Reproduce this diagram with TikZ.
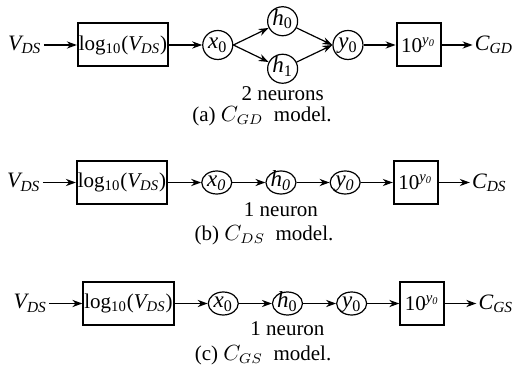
\documentclass[tikz,border=0pt]{standalone}
\usepackage{fontspec}
\setmainfont{Liberation Serif}
\usetikzlibrary{arrows.meta, shapes.geometric, positioning}

\tikzset{
  block/.style={draw, line width=1pt, minimum height=21.5pt, minimum width=22pt,
                inner xsep=0.5pt, font=\fontsize{10.5}{13}\selectfont},
  neuron/.style={draw, ellipse, line width=0.6pt, minimum width=15pt,
                 minimum height=11.5pt, inner sep=0pt, text height=4.5pt,
                 text depth=0.5pt, font=\fontsize{11.5}{13}\selectfont},
  roundneuron/.style={neuron, minimum height=14.5pt},
  sig/.style={inner sep=1pt, font=\fontsize{11}{13}\selectfont},
  note/.style={inner sep=1pt, font=\fontsize{10.5}{12}\selectfont},
  capt/.style={inner sep=0pt, font=\fontsize{10.5}{12}\selectfont},
  flow/.style={-{Stealth[length=5pt, width=3.6pt]}, line width=0.6pt},
}

\begin{document}
\begin{tikzpicture}[x=1pt, y=1pt]
  \useasboundingbox (0,0) rectangle (256,-186.5);

  % (a) C_GD model
  \node[block] (loga) at (61.5,-22.5) {log\textsubscript{10}(\textit{V\textsubscript{DS}})};
  \node[sig, left=16.5pt of loga] (vdsa) {\textit{V\textsubscript{DS}}};
  \node[roundneuron, right=16.5pt of loga] (xa) {\textit{x}\textsubscript{0}};
  \node[roundneuron, above right=1.2pt and 21.4pt of xa] (ha0) {\textit{h}\textsubscript{0}};
  \node[roundneuron, below right=1.2pt and 21.4pt of xa] (ha1) {\textit{h}\textsubscript{1}};
  \node[roundneuron, right=49.5pt of xa] (ya) {\textit{y}\textsubscript{0}};
  \node[block, right=16pt of ya] (expa) {10\textsuperscript{\textit{y\textsubscript{0}}}};
  \node[sig, right=15.5pt of expa] (cgd) {\textit{C\textsubscript{GD}}};
  \node[note, below=0pt of ha1] (nota) {2 neurons};
  \node[capt] (capa) at (131,-58) {(a) $C_{GD}$\ \ model.};

  \draw[flow] (vdsa) -- (loga);
  \draw[flow] (loga) -- (xa);
  \draw[flow] (xa.east) -- (ha0);
  \draw[flow] (xa.east) -- (ha1);
  \draw[flow] (ha0) -- (ya.west);
  \draw[flow] (ha1) -- (ya.west);
  \draw[flow] (ya) -- (expa);
  \draw[flow] (expa) -- (cgd);

  % (b) C_DS model
  \node[block] (logb) at (61,-91.25) {log\textsubscript{10}(\textit{V\textsubscript{DS}})};
  \node[sig, left=16.5pt of logb] (vdsb) {\textit{V\textsubscript{DS}}};
  \node[neuron, right=16.5pt of logb] (xb) {\textit{x\textsubscript{0}}};
  \node[neuron, right=16.5pt of xb] (hb) {\textit{h\textsubscript{0}}};
  \node[neuron, right=16.5pt of hb] (yb) {\textit{y\textsubscript{0}}};
  \node[block, right=16pt of yb] (expb) {10\textsuperscript{\textit{y\textsubscript{0}}}};
  \node[sig, right=15.5pt of expb] (cds) {\textit{C\textsubscript{DS}}};
  \node[note, below=3pt of hb] (notb) {1 neuron};
  \node[capt] (capb) at (132,-117.5) {(b) $C_{DS}$\ \ model.};

  \draw[flow] (vdsb) -- (logb);
  \draw[flow] (logb) -- (xb);
  \draw[flow] (xb) -- (hb);
  \draw[flow] (hb) -- (yb);
  \draw[flow] (yb) -- (expb);
  \draw[flow] (expb) -- (cds);

  % (c) C_GS model
  \node[block] (logc) at (64.25,-151.75) {log\textsubscript{10}(\textit{V\textsubscript{DS}})};
  \node[sig, left=16.5pt of logc] (vdsc) {\textit{V\textsubscript{DS}}};
  \node[neuron, right=16.5pt of logc] (xc) {\textit{x}\textsubscript{0}};
  \node[neuron, right=16.5pt of xc] (hc) {\textit{h}\textsubscript{0}};
  \node[neuron, right=16.5pt of hc] (yc) {\textit{y}\textsubscript{0}};
  \node[block, right=16pt of yc] (expc) {10\textsuperscript{\textit{y\textsubscript{0}}}};
  \node[sig, right=15.5pt of expc] (cgs) {\textit{C\textsubscript{GS}}};
  \node[note, below=2pt of hc] (notc) {1 neuron};
  \node[capt] (capc) at (131.5,-177.5) {(c) $C_{GS}$\ \ model.};

  \draw[flow] (vdsc) -- (logc);
  \draw[flow] (logc) -- (xc);
  \draw[flow] (xc) -- (hc);
  \draw[flow] (hc) -- (yc);
  \draw[flow] (yc) -- (expc);
  \draw[flow] (expc) -- (cgs);
\end{tikzpicture}
\end{document}
